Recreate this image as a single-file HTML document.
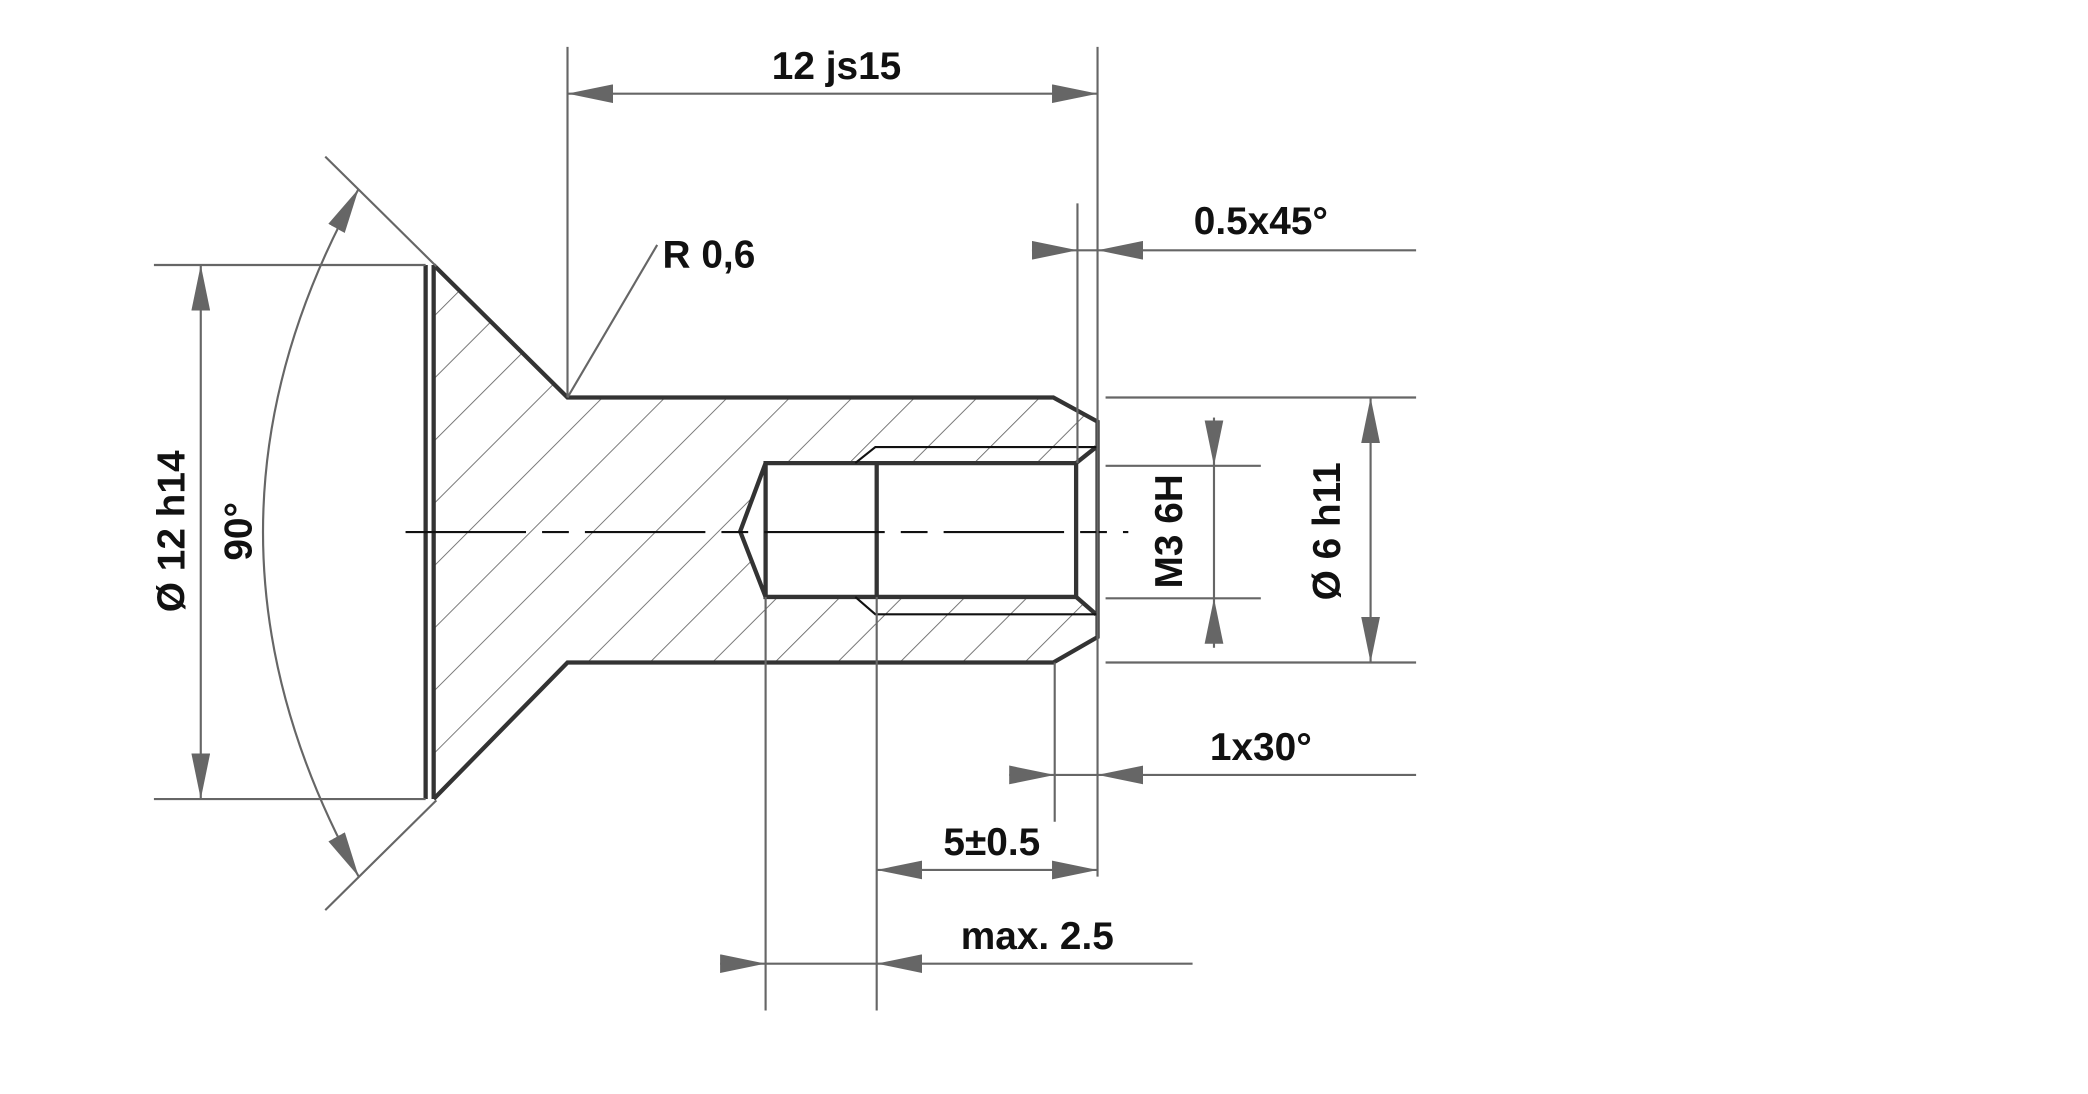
<!DOCTYPE html>
<html><head><meta charset="utf-8"><style>
html,body{margin:0;padding:0;background:#fff;}
svg{display:block;}
text{font-family:"Liberation Sans",Arial,sans-serif;font-weight:bold;fill:#111;font-size:29px;}
</style></head><body>
<svg width="2088" height="1094" viewBox="0 0 1560 817.4" preserveAspectRatio="none" xmlns="http://www.w3.org/2000/svg">
<defs>
<pattern id="h" patternUnits="userSpaceOnUse" width="33" height="33" patternTransform="rotate(45)">
<line x1="0" y1="0" x2="0" y2="33" stroke="#666" stroke-width="1.3"/>
</pattern>
<marker id="a" viewBox="0 0 34 14" refX="34" refY="7" markerWidth="34" markerHeight="14" markerUnits="userSpaceOnUse" orient="auto-start-reverse">
<path d="M0,0 L34,7 L0,14 Z" fill="#666"/>
</marker>
</defs>
<path fill-rule="evenodd" fill="url(#h)" d="M324,198 L424,297 L787,297 L820,315 L820,476 L787,495 L424,495 L324,597 Z M572,346 L553,397 L572,446 L804,446 L820,459 L820,334 L804,346 Z"/>
<g fill="none" stroke="#333" stroke-width="3.2" stroke-linejoin="miter">
<line x1="318" y1="198" x2="318" y2="597"/>
<path d="M324,198 L324,597"/>
<path d="M324,198 L424,297 L787,297 L820,315 L820,476 L787,495 L424,495 L324,597"/>
<path d="M572,346 L804,346 L804,446 L572,446 Z"/>
<path d="M572,346 L553,397 L572,446"/>
<line x1="655" y1="346" x2="655" y2="446"/>
<line x1="804" y1="346" x2="819" y2="334"/>
<line x1="804" y1="446" x2="819" y2="459"/>
</g>
<g fill="none" stroke="#111" stroke-width="1.6">
<path d="M639,346 L654,334 L820,334"/>
<path d="M639,446 L654,459 L820,459"/>
<line x1="303" y1="397.5" x2="843" y2="397.5" stroke-dasharray="90,12,20,12"/>
</g>
<g fill="none" stroke="#666" stroke-width="1.6">
<line x1="424" y1="35" x2="424" y2="297"/>
<line x1="820" y1="35" x2="820" y2="655"/>
<line x1="424" y1="70" x2="820" y2="70" marker-start="url(#a)" marker-end="url(#a)"/>
<line x1="424" y1="297" x2="491" y2="183"/>
<line x1="805" y1="152" x2="805" y2="346"/>
<line x1="771" y1="187" x2="805" y2="187" marker-end="url(#a)"/>
<line x1="1058" y1="187" x2="820" y2="187" marker-end="url(#a)"/>
<line x1="805" y1="187" x2="820" y2="187"/>
<line x1="826" y1="297" x2="1058" y2="297"/>
<line x1="826" y1="495" x2="1058" y2="495"/>
<line x1="1024" y1="297" x2="1024" y2="495" marker-start="url(#a)" marker-end="url(#a)"/>
<line x1="826" y1="348" x2="942" y2="348"/>
<line x1="826" y1="447" x2="942" y2="447"/>
<line x1="907" y1="312" x2="907" y2="348" marker-end="url(#a)"/>
<line x1="907" y1="484" x2="907" y2="447" marker-end="url(#a)"/>
<line x1="907" y1="348" x2="907" y2="447"/>
<line x1="788" y1="495" x2="788" y2="614"/>
<line x1="754" y1="579" x2="788" y2="579" marker-end="url(#a)"/>
<line x1="1058" y1="579" x2="820" y2="579" marker-end="url(#a)"/>
<line x1="788" y1="579" x2="820" y2="579"/>
<line x1="655" y1="446" x2="655" y2="755"/>
<line x1="655" y1="650" x2="820" y2="650" marker-start="url(#a)" marker-end="url(#a)"/>
<line x1="572" y1="446" x2="572" y2="755"/>
<line x1="538" y1="720" x2="572" y2="720" marker-end="url(#a)"/>
<line x1="891" y1="720" x2="655" y2="720" marker-end="url(#a)"/>
<line x1="572" y1="720" x2="655" y2="720"/>
<line x1="115" y1="198" x2="318" y2="198"/>
<line x1="115" y1="597" x2="318" y2="597"/>
<line x1="150" y1="198" x2="150" y2="597" marker-start="url(#a)" marker-end="url(#a)"/>
<line x1="243" y1="117" x2="326" y2="199"/>
<line x1="243" y1="680" x2="326" y2="598"/>
<path d="M268,141 Q125,397 268,655" marker-start="url(#a)" marker-end="url(#a)"/>
</g>
<text x="625" y="59" text-anchor="middle">12 js15</text>
<text x="495" y="200">R 0,6</text>
<text x="942" y="175" text-anchor="middle">0.5x45°</text>
<text x="942" y="568" text-anchor="middle">1x30°</text>
<text x="741" y="639" text-anchor="middle">5±0.5</text>
<text x="775" y="709" text-anchor="middle">max. 2.5</text>
<text transform="translate(1001,397) rotate(-90)" text-anchor="middle">Ø 6 h11</text>
<text transform="translate(883,397) rotate(-90)" text-anchor="middle">M3 6H</text>
<text transform="translate(138,397) rotate(-90)" text-anchor="middle">Ø 12 h14</text>
<text transform="translate(188,397) rotate(-90)" text-anchor="middle">90°</text>
</svg>
</body></html>
